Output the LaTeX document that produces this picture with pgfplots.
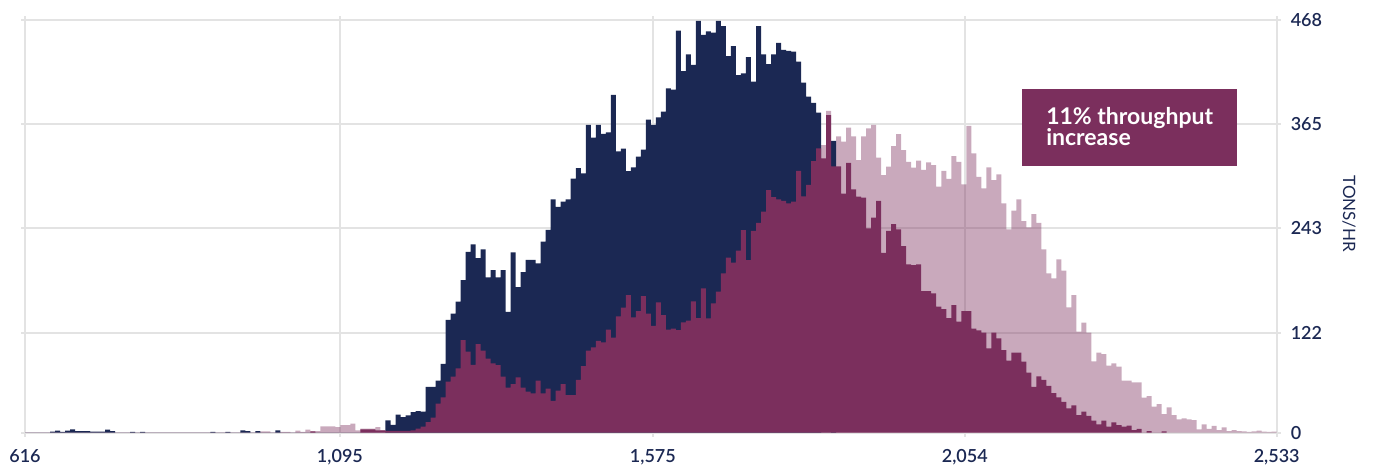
\documentclass[border=0pt]{standalone}
\usepackage{fontspec}
\setmainfont{Lato}
\newfontfamily\semib{Lato Semibold}
\usepackage{pgfplots}
\pgfplotsset{compat=1.18}
\usepackage{pgfplotstable}
\definecolor{navy}{HTML}{1B2853}
\definecolor{maroon}{HTML}{7B2F5D}
\definecolor{gridgray}{HTML}{E3E3E3}

% bin index k (bin width 7.668 tons/hr, bin 0 starts at 616), value
\pgfplotstableread{
k v
0 0
47 1.5
49 0
51 1
53 0
54 2.3
55 0.8
56 3.4
57 1.5
58 1.9
59 7.2
62 6.4
63 8.7
65 10.2
66 2.6
67 4.5
70 6.4
71 3
72 0
159 326
160 365
161 0
162 336
163 330
164 346
165 336
166 309
167 336
168 345
169 349
170 312
171 292
172 301.6
173 325
174 338.7
175 320.5
176 307
177 300.5
178 308.4
179 297.9
180 306.6
181 303.5
182 279
183 297
184 287.7
185 313.7
186 307
187 281.6
188 348
189 316.8
190 290
191 277
192 301
193 286.5
194 293
195 260
196 230.6
197 251.7
198 264.6
199 240
200 232.8
201 248
202 238
203 208
204 180.7
205 175
206 196.6
207 183.7
208 142
209 156
210 114.5
211 124.7
212 113.4
213 81
214 90.7
215 89
216 76
217 78.6
218 75
219 59
220 59
221 57
222 57
223 39.7
224 41.6
225 29.5
226 32.5
227 21
228 28.7
229 20
230 15
231 16.3
232 15
233 14.4
234 3.8
235 9.5
236 4.2
237 7.6
238 3
239 6
240 1.9
241 3
242 1.9
243 1.5
244 0.8
245 1.5
246 2.3
247 1.1
248 0.8
249 1.1
250 0
}\pinkdata

\pgfplotstableread{
k v
0 0
5 1.1
6 2.3
7 0.8
8 2.3
9 3.8
10 1.9
11 1.9
12 1.9
13 1.1
14 1.1
15 1.1
16 3.4
17 1.9
18 0
21 1
22 0
23 1
24 0
37 1
38 0
40 1
41 0
43 2.6
44 1.9
45 0
46 1.9
47 0
50 2.6
51 0
72 14
73 9
74 20.4
75 17.8
76 19.7
77 23.4
78 24.6
79 24
80 52
81 52
82 59
83 78
84 128
85 135
86 148.5
87 173
88 205
89 213.6
90 198
91 208
92 176
93 184.5
94 176
95 184.5
96 137
97 204.5
98 165
99 182
100 196
101 196
102 192
103 216.6
104 230
105 264.6
106 256
107 262
108 264.6
109 288
110 300
111 294
112 349
113 334.5
114 349
115 339
116 340.6
117 383
118 319
119 322
120 296.7
121 301
122 313
123 321
124 355
125 349
126 357.6
127 364
128 390.5
129 389
130 456
131 410
132 429
133 417
134 467
135 451
136 455
137 453.6
138 467
139 461
140 427
141 438.5
142 405.6
143 407.5
144 426
145 398
146 461
147 429
148 418
149 429
150 442
151 434
152 433
153 432
154 420.7
155 397
156 381
157 374
158 363
159 0
161 331
162 0
}\navydata

\pgfplotstableread{
k v
0 0
57 1.5
58 0
67 3.8
70 2.6
72 2
77 2.6
78 4.5
79 7
80 12
81 17
82 33
83 40
84 58
85 63.5
86 73
87 105
88 92
89 77
90 100.5
91 93
92 84
93 78.6
94 76.7
95 63.5
96 51
97 55
98 62.7
99 51
100 46.5
101 44.6
102 59
103 44.6
104 50
105 36
106 47.6
107 55
108 42.7
109 42.7
110 60
111 75.6
112 93
113 96.8
114 104
115 102.4
116 117
117 107.7
118 132
119 141.8
120 156
121 130.8
122 138
123 155
124 135
125 121
126 147.8
127 133.4
128 117
129 118
130 116.4
131 125
132 127
133 149
134 130
135 163.7
136 129.7
137 146.7
138 160
139 180.7
140 198.5
141 192.8
142 206.4
143 229.8
144 195.8
145 229
146 238
147 250.6
148 275
149 267
150 264.6
151 263
152 260
153 262
154 297
155 268
156 281
157 308
158 322.5
159 311
160 360
161 302
162 302
163 271
164 306
165 276
166 267.6
167 266.5
168 231.7
169 244
170 263
171 204
172 229
173 236.6
174 230.6
175 211.7
176 191
177 190
178 191
179 160.6
180 160.6
181 158
182 143
183 140
184 130
185 144.8
186 126
187 138
188 138
189 118
190 116
191 113.4
192 95.6
193 113.4
194 107
195 93.7
196 81.6
197 90.7
198 90.7
199 80.5
200 68
201 52
202 64
203 60
204 53
205 45
206 40
207 35
208 27.6
209 31
210 20
211 23.8
212 19
213 13.6
214 9.5
215 13.6
216 6.8
217 11.7
218 8.7
219 6.8
220 8
221 3
222 4.2
223 0
224 1.9
225 0
227 1.5
228 0
}\maroondata

\begin{document}
\begin{tikzpicture}
\begin{axis}[
  scale only axis,
  width=625.85pt, height=206.35pt,
  xmin=0, xmax=250, ymin=0, ymax=468,
  clip=false,
  xtick={0,62.9,125.4,187.7,250},
  xticklabels={616,{1,095},{1,575},{2,054},{2,533}},
  ytick={0,113.4,232.1,350.1,468},
  yticklabels={0,122,243,365,468},
  grid=major,
  major grid style={gridgray, line width=0.9pt},
  axis line style={draw=none},
  tick align=outside, major tick length=2pt,
  major tick style={gridgray, line width=0.9pt},
  xtick pos=both, ytick pos=both,
  xticklabel pos=lower, yticklabel pos=right,
  ticklabel style={font=\semib\fontsize{9}{10.8}\selectfont, text=navy},
  /pgf/number format/assume math mode=true,
  xticklabel style={yshift=-2.8pt},
  yticklabel style={anchor=west, xshift=1.5pt},
]
\addplot[const plot, draw=none, fill=maroon, fill opacity=0.41] table[x=k, y=v] {\pinkdata} \closedcycle;
\addplot[const plot, draw=none, fill=navy] table[x=k, y=v] {\navydata} \closedcycle;
\addplot[const plot, draw=none, fill=maroon] table[x=k, y=v] {\maroondata} \closedcycle;

\node[rotate=-90, font=\fontsize{8.5}{10}\selectfont, text=navy] at (axis description cs:1.0578,0.53) {TONS/HR};

\fill[maroon] (axis cs:199.06,302.4) rectangle (axis cs:242.0,389.4);
\node[anchor=base west, inner sep=0pt, text=white, font=\bfseries\fontsize{11.5}{12}\selectfont] at (axis cs:203.9,349.4) {11\% throughput};
\node[anchor=base west, inner sep=0pt, text=white, font=\bfseries\fontsize{11.5}{12}\selectfont] at (axis cs:203.9,326.2) {increase};
\end{axis}
\pgfresetboundingbox
\path ([xshift=-12.5pt,yshift=-16.65pt]current axis.south west) rectangle ++(687.5pt,233pt);
\end{tikzpicture}
\end{document}
